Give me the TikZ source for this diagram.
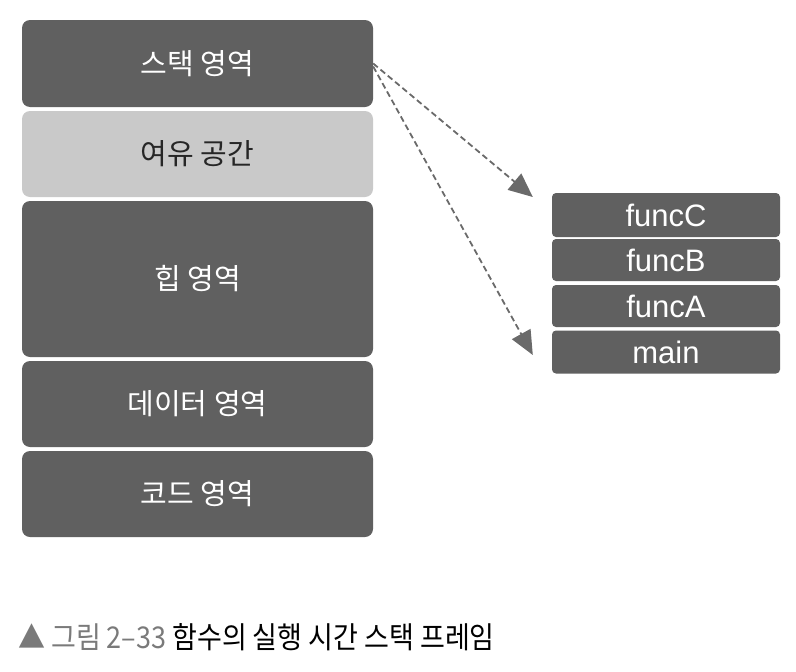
\documentclass[tikz,border=0pt]{standalone}
\usepackage{fontspec}
\setmainfont{Liberation Sans}
\newfontfamily\kr{Noto Sans CJK KR}
\usetikzlibrary{arrows.meta}
\definecolor{boxdark}{HTML}{606060}
\definecolor{boxlight}{HTML}{C9C9C9}
\definecolor{arrowgray}{HTML}{6A6A6A}
\definecolor{capgray}{HTML}{7A7A7A}
\begin{document}
\begin{tikzpicture}[x=1pt,y=-1pt,
  region/.style={rectangle, rounded corners=8pt, fill=boxdark, text=white,
    minimum width=351pt, inner sep=0pt, font=\kr\fontsize{29}{32}\selectfont},
  freeregion/.style={region, fill=boxlight, text=black!85},
  frame/.style={rectangle, rounded corners=4pt, fill=boxdark, text=white,
    minimum width=228pt, inner sep=0pt, font=\fontsize{31}{34}\selectfont},
  link/.style={draw=arrowgray, line width=1.8pt, dash pattern=on 6pt off 3.5pt,
    -{Triangle[length=24pt,width=21pt]}}]
\useasboundingbox (0,0) rectangle (796,672);
\node[region, minimum height=87pt] (stack) at (197.5,63.5) {스택 영역};
\node[freeregion, minimum height=86pt] (free) at (197.5,154) {여유 공간};
\node[region, minimum height=156pt] (heap) at (197.5,279) {힙 영역};
\node[region, minimum height=86pt] (data) at (197.5,404) {데이터 영역};
\node[region, minimum height=86pt] (code) at (197.5,494) {코드 영역};
\node[frame, minimum height=44pt] (fc) at (666,215) {funcC};
\node[frame, minimum height=42pt] (fb) at (666,260) {funcB};
\node[frame, minimum height=42pt] (fa) at (666,306) {funcA};
\node[frame, minimum height=43pt] (fm) at (666,352) {main};
\draw[link] (stack.east) -- ([xshift=-19pt,yshift=18pt]fc.west);
\draw[link] ([yshift=-3pt]stack.east) -- ([xshift=-19pt,yshift=-3pt]fm.west);
\node[anchor=west, inner sep=0pt, font=\kr\fontsize{30}{34}\selectfont] (cap) at (18,637)
  {\scalebox{0.9}[1]{\textcolor{capgray}{▲ 그림 2–33} 함수의 실행 시간 스택 프레임}};
\end{tikzpicture}
\end{document}
